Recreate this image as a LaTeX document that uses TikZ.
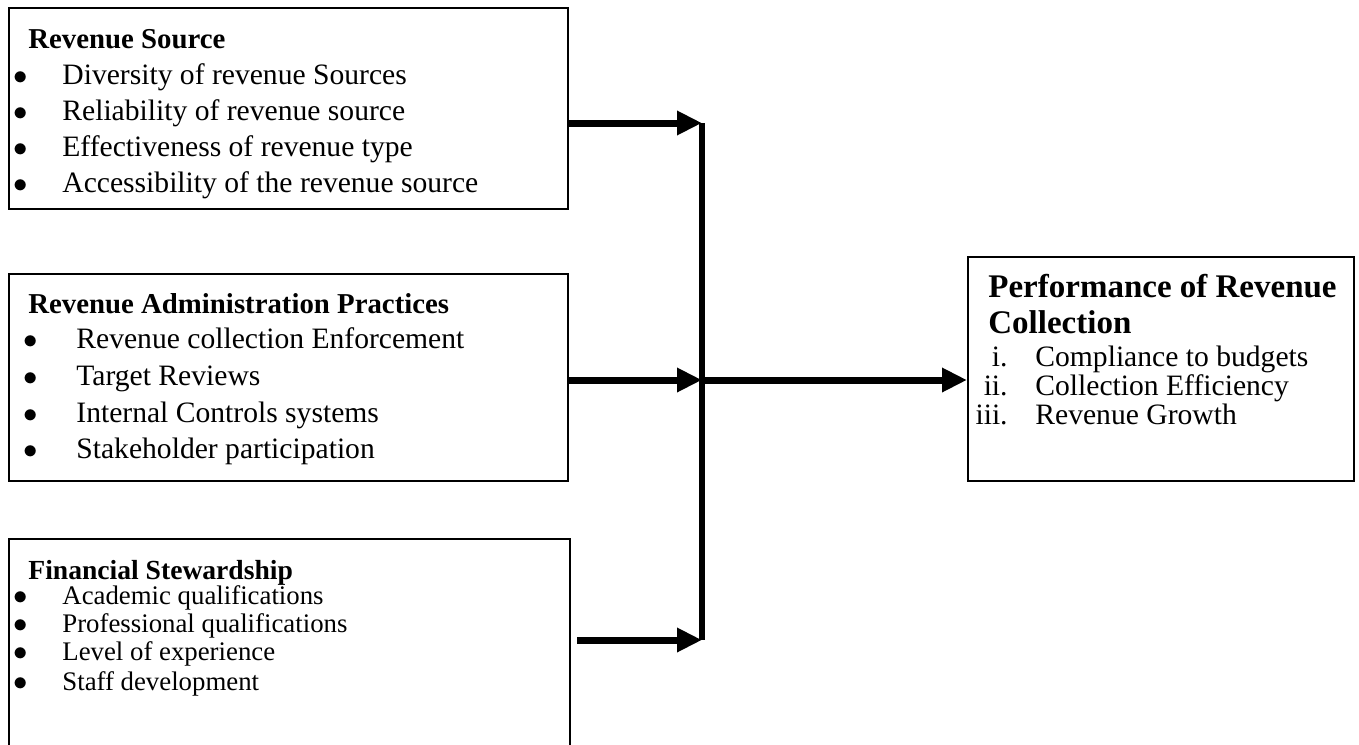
\documentclass[tikz,border=0pt]{standalone}
\usepackage{fontspec}
\setmainfont{Liberation Serif}
\usetikzlibrary{arrows.meta}

\tikzset{
  box/.style={draw, line width=0.8pt, anchor=north west, inner sep=0},
  head/.style={anchor=base west, inner sep=0, font=\fontsize{14.4}{16}\selectfont\bfseries},
  item/.style={anchor=base west, inner sep=0, font=\fontsize{14.8}{16}\selectfont},
  dot/.style={anchor=base west, inner sep=0, font=\fontsize{14.8}{16}\selectfont},
  smallhead/.style={head, font=\fontsize{13.8}{15}\selectfont\bfseries},
  small/.style={font=\fontsize{13.4}{15}\selectfont},
  bighead/.style={head, font=\fontsize{16.5}{18}\selectfont\bfseries},
  flow/.style={line width=3.5pt, -{Triangle[length=12.5pt,width=11.5pt]}},
  trunk/.style={line width=3pt}
}

\begin{document}
\begin{tikzpicture}[x=0.5pt, y=-0.5pt]

\clip (0,0) rectangle (1359,744);

\node[box, minimum width=279.5pt, minimum height=100.5pt] (rs) at (8,7) {};
\node[box, minimum width=279.5pt, minimum height=103.5pt] (rap) at (8,273) {};
\node[box, minimum width=280.5pt, minimum height=110pt] (fs) at (8,538) {};
\node[box, minimum width=193pt, minimum height=112pt] (prc) at (967,256) {};

\node[head] (rs0) at (28,48) {Revenue Source};
\node[dot] (rsb1) at (13,84) {$\bullet$};
\node[item] (rs1) at (62,84) {Diversity of revenue Sources};
\node[dot] (rsb2) at (13,120) {$\bullet$};
\node[item] (rs2) at (62,120) {Reliability of revenue source};
\node[dot] (rsb3) at (13,156) {$\bullet$};
\node[item] (rs3) at (62,156) {Effectiveness of revenue type};
\node[dot] (rsb4) at (13,192) {$\bullet$};
\node[item] (rs4) at (62,192) {Accessibility of the revenue source};

\node[head] (rap0) at (28,313) {Revenue Administration Practices};
\node[dot] (rapb1) at (23,348) {$\bullet$};
\node[item] (rap1) at (76,348) {Revenue collection Enforcement};
\node[dot] (rapb2) at (23,385) {$\bullet$};
\node[item] (rap2) at (76,385) {Target Reviews};
\node[dot] (rapb3) at (23,422) {$\bullet$};
\node[item] (rap3) at (76,422) {Internal Controls systems};
\node[dot] (rapb4) at (23,458) {$\bullet$};
\node[item] (rap4) at (76,458) {Stakeholder participation};

\node[smallhead] (fs0) at (28,579) {Financial Stewardship};
\node[dot, small] (fsb1) at (13,604) {$\bullet$};
\node[item, small] (fs1) at (62,604) {Academic qualifications};
\node[dot, small] (fsb2) at (13,632) {$\bullet$};
\node[item, small] (fs2) at (62,632) {Professional qualifications};
\node[dot, small] (fsb3) at (13,660) {$\bullet$};
\node[item, small] (fs3) at (62,660) {Level of experience};
\node[dot, small] (fsb4) at (13,690) {$\bullet$};
\node[item, small] (fs4) at (62,690) {Staff development};

\node[bighead] (prc0) at (988,297) {Performance of Revenue};
\node[bighead] (prc00) at (988,333) {Collection};
\node[item, anchor=base east] (prcn1) at (1008,366) {i.};
\node[item] (prc1) at (1035,366) {Compliance to budgets};
\node[item, anchor=base east] (prcn2) at (1008,395) {ii.};
\node[item] (prc2) at (1035,395) {Collection Efficiency};
\node[item, anchor=base east] (prcn3) at (1008,424) {iii.};
\node[item] (prc3) at (1035,424) {Revenue Growth};

\coordinate (j1) at (702,123);
\coordinate (j2) at (702,380);
\coordinate (j3) at (702,640);
\coordinate (s3) at (577,640);

\draw[trunk] (j1) -- (j3);
\draw[flow] (rs.east |- j1) -- (j1);
\draw[flow] (rap.east |- j2) -- (j2);
\draw[flow] (s3) -- (j3);
\draw[flow] (j2) -- (prc.west |- j2);

\end{tikzpicture}
\end{document}
